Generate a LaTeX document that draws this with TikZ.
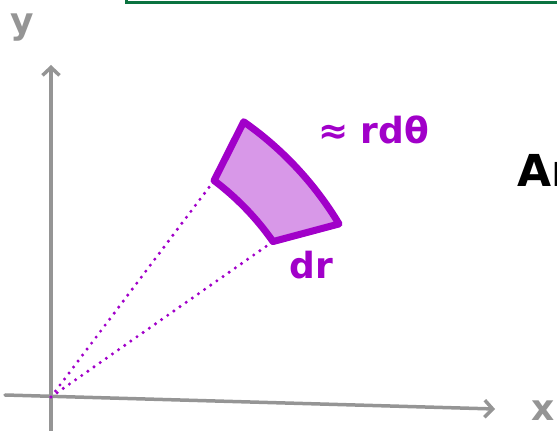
\documentclass[tikz,border=0pt]{standalone}
\usepackage{fontspec}
\setmainfont{DejaVu Sans}
\usetikzlibrary{arrows.meta,calc}
\definecolor{sector}{HTML}{A100C9}
\definecolor{sectorfill}{HTML}{D898E8}
\definecolor{axis}{HTML}{959595}
\definecolor{frame}{HTML}{0B7340}

\begin{document}
\begin{tikzpicture}[x=1pt,y=1pt,
  axisline/.style={draw=axis,line width=3.5pt,line cap=round,-{Straight Barb[length=8pt,width=17pt,line width=3.5pt]}},
  ray/.style={draw=sector,line width=3.4pt,line cap=round,dash pattern=on 0pt off 7.5pt},
  lbl/.style={text=#1,inner sep=0pt,font=\fontsize{36}{36}\selectfont\bfseries}]
  \useasboundingbox (0,0) rectangle (557,431);
  % top frame, cut off by the page
  \draw[frame,line width=3pt] (126,436) -- (126,428.5) -- (562,428.5);
  % axes
  \coordinate (origin) at (51,34);
  \coordinate (xstart) at (5,36);
  \coordinate (xend) at (495,22);
  \coordinate (ystart) at (51,-3);
  \coordinate (yend) at (51,366);
  \draw[axisline] (xstart) -- (xend);
  \draw[axisline] (ystart) -- (yend);
  % polar area element
  \filldraw[draw=sector,fill=sectorfill,line width=7pt,line join=round,line cap=round]
    (origin) ++(35:271) coordinate (innerR) arc[start angle=35,end angle=53,radius=271pt] coordinate (innerL)
    -- ($(origin)+(55:336)$) coordinate (outerL) arc[start angle=55,end angle=31,radius=336pt] coordinate (outerR) -- cycle;
  \draw[ray] (origin) -- (innerL);
  \draw[ray] (origin) -- (innerR);
  % labels
  \node[lbl=sector,anchor=west] (arclen) at (318,301) {≈ rdθ};
  \node[lbl=sector] (width) at (311,166) {dr};
  \node[lbl=axis] (ylabel) at (22,403) {y};
  \node[lbl=axis] (xlabel) at (543,20) {x};
  \node[lbl=black,anchor=west,font=\fontsize{44}{44}\selectfont\bfseries] (area) at (517,261) {Ar};
\end{tikzpicture}
\end{document}
